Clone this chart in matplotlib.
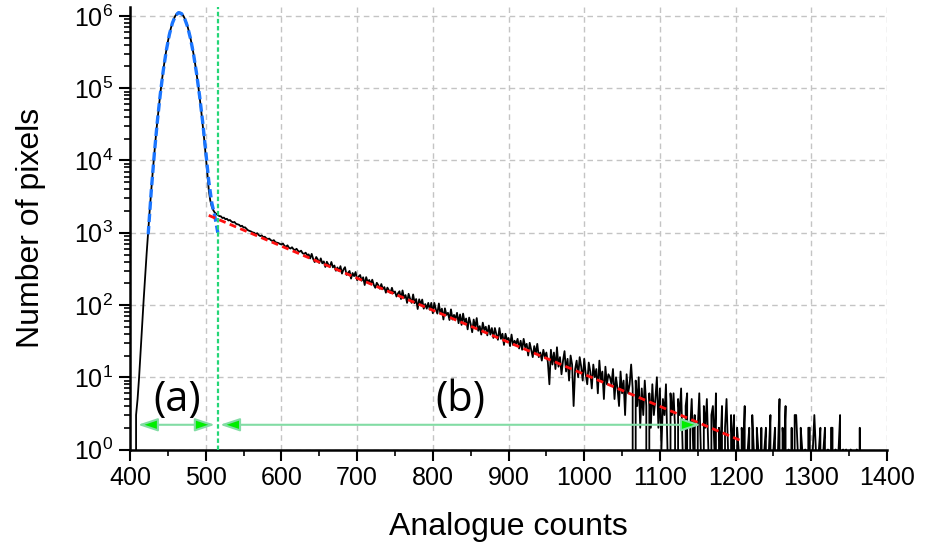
import numpy as np
import matplotlib
matplotlib.use('Agg')
import matplotlib.pyplot as plt
from matplotlib.ticker import LogLocator, LogFormatterMathtext, MultipleLocator, NullFormatter

##########################################################
# histogram of analogue counts (bins of 2 counts from 404)
##########################################################
#
bin_start = 404
bin_width = 2
counts = [
    0, 0, 3, 5, 10, 23, 53, 117, 252, 523, 1050, 2040, 3830, 6960, 12200, 20800, 34300, 54500, 84000, 125000,
    180000, 251000, 338000, 441000, 557000, 679000, 802000, 916000, 1010000, 1080000, 1116000, 1117000, 1085000, 1023000, 935000, 830000, 716000, 599000, 486000, 384000,
    294000, 218000, 157000, 110000, 74800, 49400, 31600, 19700, 11900, 6950, 3950, 2800, 2300, 2050, 1900, 1820,
    1760, 1700, 1690, 1600, 1620, 1540, 1560, 1480, 1500, 1430, 1390, 1410, 1330, 1310, 1290, 1230, 1250, 1180, 1190, 1130,
    1080, 1060, 1040, 1010, 1000, 960, 985, 930, 900, 920, 870, 880, 840, 820, 830, 790, 770, 790, 740, 730,
    720, 700, 690, 710, 660, 640, 670, 620, 605, 630, 590, 575, 600, 560, 545, 565, 520, 510, 530, 490,
    502, 441, 510, 433, 393, 462, 427, 382, 442, 378, 401, 336, 397, 363, 335, 394, 332, 352, 298, 331,
    298, 345, 272, 311, 334, 261, 278, 296, 232, 277, 251, 286, 221, 248, 260, 217, 242, 189, 243, 207,
    222, 195, 224, 190, 173, 203, 188, 168, 195, 166, 177, 148, 174, 160, 147, 173, 146, 154, 131, 145,
    155, 121, 159, 125, 137, 107, 143, 122, 107, 140, 106, 121, 88, 120, 102, 119, 89, 103, 89, 107,
    86, 107, 77, 107, 87, 76, 105, 76, 89, 63, 90, 73, 78, 62, 87, 63, 73, 64, 78, 56,
    74, 53, 76, 57, 65, 46, 67, 55, 42, 63, 48, 66, 44, 51, 39, 57, 45, 50, 38, 52,
    39, 48, 35, 48, 39, 33, 48, 34, 40, 28, 40, 33, 35, 27, 39, 28, 32, 29, 34, 25,
    32, 24, 34, 26, 29, 20, 30, 24, 19, 27, 21, 29, 19, 22, 17, 24, 19, 22, 16, 8,
    24, 15, 22, 13, 26, 14, 19, 11, 17, 23, 12, 18, 9, 20, 15, 4, 13, 17, 10, 19,
    14, 9, 18, 11, 8, 16, 12, 7, 15, 10, 13, 6, 17, 9, 12, 5, 14, 8, 11, 10,
    8, 13, 5, 10, 7, 4, 12, 6, 9, 3, 11, 6, 8, 15, 7, 0, 9, 4, 10, 2,
    7, 3, 9, 4, 0, 6, 2, 8, 3, 5, 10, 2, 7, 1, 5, 3, 8, 1, 0, 6,
    3, 6, 2, 0, 5, 3, 7, 1, 0, 4, 6, 0, 2, 5, 1, 3, 0, 2, 6, 1,
    0, 4, 2, 5, 1, 0, 3, 4, 1, 6, 0, 2, 1, 4, 0, 2, 5, 1, 0, 3,
    1, 3, 0, 2, 1, 0, 2, 1, 4, 0, 1, 2, 0, 3, 1, 0, 2, 1, 0, 2,
    0, 1, 2, 0, 1, 3, 0, 1, 2, 0, 1, 5, 0, 2, 1, 4, 0, 1, 0, 2,
    0, 3, 3, 1, 0, 2, 1, 0, 1, 0, 2, 2, 0, 1, 3, 1, 0, 1, 2, 0,
    1, 2, 0, 1, 0, 2, 2, 0, 1, 0, 1, 3, 0, 1, 0, 1, 0, 0, 1, 0,
    0, 0, 1, 0, 2, 0, 0,
]
channels = np.arange(bin_start, bin_start + bin_width*len(counts), bin_width)

# gaussian fit of the pedestal (a)
gauss_x = [424, 428, 432, 436, 440, 444, 448, 452, 456, 460, 464, 468,
           472, 476, 480, 484, 488, 492, 496, 500, 504, 508, 512, 516]
gauss_y = [950, 3700, 12000, 34000, 83000, 178000, 335000, 553000, 798000, 1005000, 1110000, 1080000,
           930000, 712000, 483000, 292000, 158000, 77000, 34000, 13500, 5200, 2600, 1700, 1000]

# exponential fit of the tail (b) - red dashed line
exp_x = [504, 1209]
exp_y = [1740, 1.3]

cut = 516                      # threshold between (a) and (b)
region_a = [410.5, 512]
region_b = [519, 1154]
arrow_y = 2.2

##########################################################
# plotting
##########################################################
#
plt.rcParams['font.family'] = ['Liberation Sans', 'DejaVu Sans']
plt.rcParams['mathtext.fontset'] = 'custom'
plt.rcParams['mathtext.rm'] = 'Liberation Sans'
plt.rcParams['mathtext.it'] = 'Liberation Sans:italic'
plt.rcParams['mathtext.bf'] = 'Liberation Sans:bold'

fig = plt.figure(figsize=(9.26, 5.49), dpi=100)
ax = fig.add_axes([0.1404, 0.1812, 0.8175, 0.806])

ax.plot(channels, counts, color='k', lw=1.3, zorder=3)
ax.plot(gauss_x, gauss_y, color='#1a75ff', lw=2.4, ls=(0, (2.5, 1.2)), zorder=4)
ax.plot(exp_x, exp_y, color='#ff1010', lw=2.0, ls=(0, (2.5, 1.6)), zorder=4)
ax.axvline(cut, color='#25d677', lw=1.6, ls=(0, (2, 1.2)), zorder=5)

arrow_kw = dict(arrowstyle='<|-|>,head_length=1.2,head_width=0.4', fc='#00ee00', ec='#82dca4',
                lw=1.5, shrinkA=0, shrinkB=0)
ax.annotate('', xy=(region_a[0], arrow_y), xytext=(region_a[1], arrow_y), arrowprops=arrow_kw, zorder=6)
ax.annotate('', xy=(region_b[0], arrow_y), xytext=(region_b[1], arrow_y), arrowprops=arrow_kw, zorder=6)
ax.text(462, 4.8, '(a)', fontsize=30, family='Open Sans', ha='center', va='center')
ax.text(837, 4.8, '(b)', fontsize=30, family='Open Sans', ha='center', va='center')

ax.set_yscale('log')
ax.set_xlim(400, 1400)
ax.set_ylim(1, 1.33e6)
ax.xaxis.set_major_locator(MultipleLocator(100))
ax.xaxis.set_minor_locator(MultipleLocator(50))
ax.yaxis.set_major_locator(LogLocator(base=10, numticks=10))
ax.yaxis.set_major_formatter(LogFormatterMathtext())
ax.yaxis.set_minor_locator(LogLocator(base=10, subs=np.arange(2, 10), numticks=20))
ax.yaxis.set_minor_formatter(NullFormatter())

ax.tick_params(which='major', direction='out', length=8, width=1.5, labelsize=18, pad=4)
ax.tick_params(which='minor', direction='out', length=4.5, width=1.2)
for s in ['top', 'right']:
    ax.spines[s].set_visible(False)
for s in ['left', 'bottom']:
    ax.spines[s].set_linewidth(1.8)

ax.set_axisbelow(True)
ax.grid(True, which='major', color='#c4c4c4', ls=(0, (4, 3)), lw=1.0)

ax.set_xlabel('Analogue counts', fontsize=23, labelpad=16)
ax.set_ylabel('Number of pixels', fontsize=23, labelpad=20)

fig.savefig('out.png', dpi=100)
